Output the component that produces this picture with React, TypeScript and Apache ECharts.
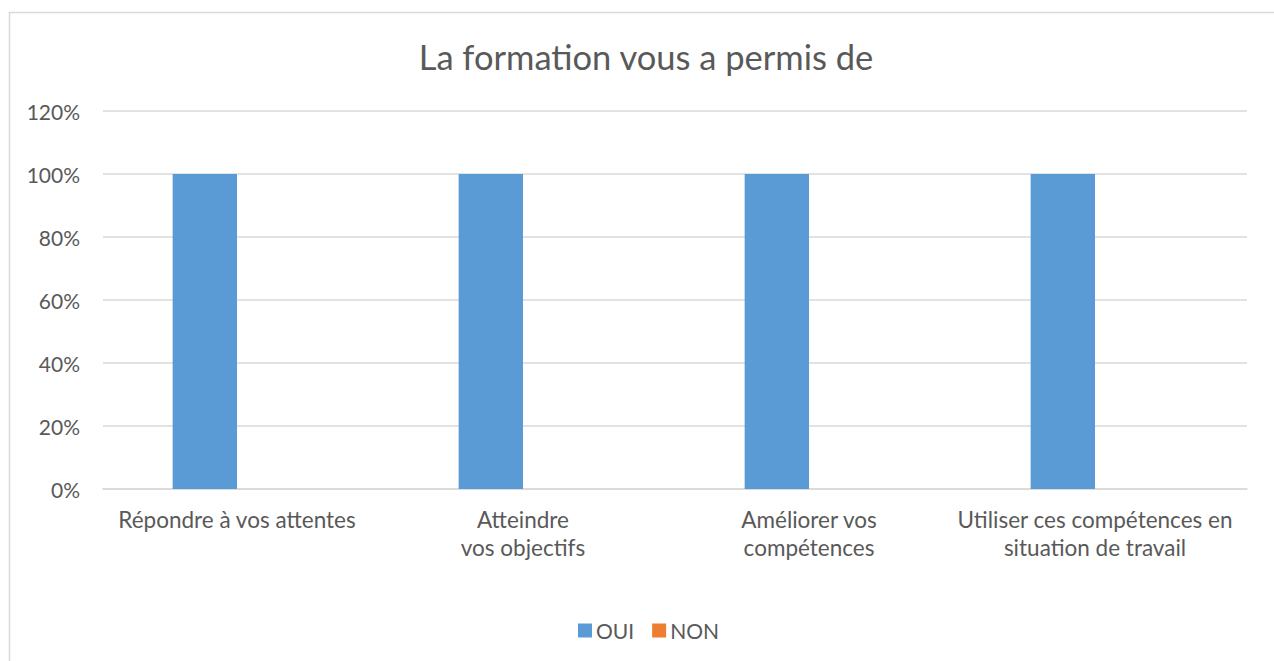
import React, { useEffect, useRef } from "react";
import * as echarts from "echarts";

const titleText = "La formation vous a permis de";
const categories = [
  "Répondre à vos attentes",
  "Atteindre\nvos objectifs",
  "Améliorer vos\ncompétences",
  "Utiliser ces compétences en\nsituation de travail",
];
const seriesNames = ["OUI", "NON"];
const ouiValues = [1, 1, 1, 1];
const nonValues = [0, 0, 0, 0];
const yMin = 0;
const yMax = 1.2;
const yInterval = 0.2;

const FONT = "Lato";
const TEXT = "#595959";
const GRID = "#D9D9D9";

export default function App() {
  const ref = useRef<HTMLDivElement>(null);
  useEffect(() => {
    if (!ref.current) return;
    const chart = echarts.init(ref.current, undefined, { renderer: "svg" });
    chart.setOption({
      animation: false,
      backgroundColor: "#ffffff",
      title: {
        text: titleText,
        left: 641,
        top: 51,
        textAlign: "center",
        textVerticalAlign: "middle",
        textStyle: { fontFamily: FONT, fontSize: 34.5, fontWeight: "normal", color: TEXT },
      },
      graphic: [
        {
          type: "rect",
          shape: { x: 9.5, y: 12.5, width: 1400, height: 800 },
          style: { fill: "none", stroke: GRID, lineWidth: 1.5 },
          silent: true,
          z: -1,
        },
      ],
      legend: {
        left: 578,
        top: 620,
        padding: 0,
        itemWidth: 14,
        itemHeight: 14,
        itemGap: 18,
        icon: "rect",
        textStyle: { fontFamily: FONT, fontSize: 21, color: TEXT, padding: [0, 0, 0, -1] },
        data: seriesNames,
      },
      grid: [
        { left: 94, right: 36, top: 111, bottom: 172, containLabel: false },
        { left: 103, right: 27, top: 111, bottom: 172, containLabel: false },
      ],
      xAxis: [
        {
          type: "category",
          gridIndex: 0,
          data: categories,
          axisLine: { show: false },
          axisTick: { show: false },
          axisLabel: {
            fontFamily: FONT,
            fontSize: 22.5,
            color: TEXT,
            lineHeight: 28,
            margin: 16,
            interval: 0,
          },
        },
        {
          type: "category",
          gridIndex: 1,
          data: categories,
          axisLine: { lineStyle: { color: GRID, width: 1.5 } },
          axisTick: { show: false },
          axisLabel: { show: false },
        },
      ],
      yAxis: [
        {
          type: "value",
          gridIndex: 0,
          min: yMin,
          max: yMax,
          interval: yInterval,
          show: false,
        },
        {
          type: "value",
          gridIndex: 1,
          min: yMin,
          max: yMax,
          interval: yInterval,
          axisLine: { show: false },
          axisTick: { show: false },
          splitLine: { lineStyle: { color: GRID, width: 1.5 } },
          axisLabel: {
            fontFamily: FONT,
            fontSize: 21,
            color: TEXT,
            margin: 23,
            formatter: (v: number) => Math.round(v * 100) + "%",
          },
        },
      ],
      series: [
        {
          name: seriesNames[0],
          type: "bar",
          xAxisIndex: 0,
          yAxisIndex: 0,
          data: ouiValues,
          itemStyle: { color: "#5B9BD5" },
          barGap: "0%",
          barCategoryGap: "55%",
          z: 3,
        },
        {
          name: seriesNames[1],
          type: "bar",
          xAxisIndex: 0,
          yAxisIndex: 0,
          data: nonValues,
          itemStyle: { color: "#ED7D31" },
          barGap: "0%",
          barCategoryGap: "55%",
          z: 3,
        },
      ],
    });
    return () => chart.dispose();
  }, []);
  return (
    <div
      ref={ref}
      style={{ position: "fixed", left: 0, top: 0, width: 1274, height: 661, background: "#fff" }}
    />
  );
}
